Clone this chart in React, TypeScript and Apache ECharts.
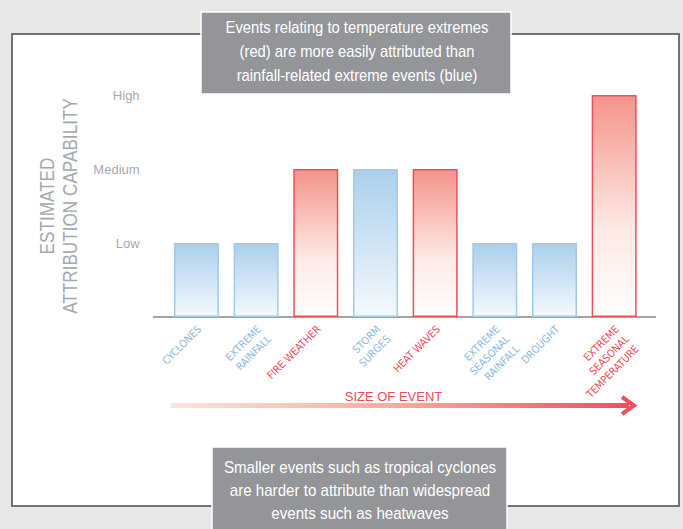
import React, { useEffect, useRef } from "react";
import * as echarts from "echarts";

const categories = [
  "CYCLONES",
  "EXTREME\nRAINFALL",
  "FIRE WEATHER",
  "STORM\nSURGES",
  "HEAT WAVES",
  "EXTREME\nSEASONAL\nRAINFALL",
  "DROUGHT",
  "EXTREME\nSEASONAL\nTEMPERATURE",
];
const capability = [1, 1, 2, 2, 2, 1, 1, 3];
const eventKind = ["rain", "rain", "temp", "rain", "temp", "rain", "rain", "temp"];
const levelLabels = ["", "Low", "Medium", "High"];

const NARROW = "'DejaVu Sans Condensed', 'Liberation Sans Narrow', sans-serif";
const REG = "'Liberation Sans', Arial, sans-serif";
const BLUE_TXT = "#8db9dc";
const RED_TXT = "#ee4b58";

export default function App() {
  const ref = useRef<HTMLDivElement>(null);
  useEffect(() => {
    if (!ref.current) return;
    const chart = echarts.init(ref.current, null, { renderer: "svg" });
    const blueFill = new echarts.graphic.LinearGradient(0, 0, 0, 1, [
      { offset: 0, color: "#aacfec" },
      { offset: 1, color: "#f5f9fd" },
    ]);
    const redFill = new echarts.graphic.LinearGradient(0, 0, 0, 1, [
      { offset: 0, color: "#f5938a" },
      { offset: 0.6, color: "#fde9e4" },
      { offset: 1, color: "#fffefd" },
    ]);
    const centered = { align: "center", verticalAlign: "middle", textAlign: "center", textVerticalAlign: "middle" };
    const option: any = {
      animation: false,
      backgroundColor: "#e7e7e5",
      grid: { left: 166.6, right: 39, top: 95, bottom: 212 },
      xAxis: {
        type: "category",
        data: categories,
        axisLine: { show: false },
        axisTick: { show: false },
        axisLabel: {
          interval: 0,
          rotate: 45,
          margin: 3,
          fontSize: 10.6,
          lineHeight: 14,
          fontFamily: NARROW,
          verticalAlign: "top",
          padding: [0, 3, 0, 0],
          color: (v: any, i: number) => {
            const idx = typeof i === "number" ? i : categories.indexOf(v);
            return eventKind[idx] === "temp" ? RED_TXT : BLUE_TXT;
          },
        },
      },
      yAxis: {
        type: "value",
        min: 0,
        max: 3,
        interval: 1,
        splitLine: { show: false },
        axisLine: { show: false },
        axisTick: { show: false },
        axisLabel: {
          margin: 27,
          fontSize: 13,
          fontFamily: REG,
          color: "#a7a9ac",
          formatter: (v: number) => levelLabels[Math.round(v)] || "",
        },
      },
      series: [
        {
          type: "bar",
          barWidth: 45,
          data: capability.map((v, i) => ({
            value: v,
            itemStyle:
              eventKind[i] === "temp"
                ? { color: redFill, borderColor: "#ef4e5c", borderWidth: 1.5 }
                : { color: blueFill, borderColor: "#a3c9e8", borderWidth: 1.5 },
          })),
        },
      ],
      graphic: [
        {
          type: "rect",
          z: -10,
          shape: { x: 12, y: 34, width: 667, height: 472 },
          style: { fill: "#ffffff", stroke: "#727376", lineWidth: 2 },
        },
        {
          type: "line",
          shape: { x1: 153, y1: 317, x2: 656, y2: 317 },
          style: { stroke: "#a3a3a3", lineWidth: 2 },
        },
        {
          type: "text",
          x: 59,
          y: 206,
          rotation: Math.PI / 2,
          scaleX: 0.88,
          style: {
            text: "ESTIMATED\nATTRIBUTION CAPABILITY",
            fill: "#a7a9ac",
            fontSize: 19.5,
            fontFamily: REG,
            lineHeight: 23,
            ...centered,
          },
        },
        {
          type: "text",
          x: 393.5,
          y: 396,
          style: {
            text: "SIZE OF EVENT",
            fill: RED_TXT,
            fontSize: 13,
            fontFamily: REG,
            ...centered,
          },
        },
        {
          type: "rect",
          shape: { x: 171, y: 403, width: 458, height: 5 },
          style: {
            fill: new echarts.graphic.LinearGradient(0, 0, 1, 0, [
              { offset: 0, color: "#fde2de" },
              { offset: 0.5, color: "#f7a9a1" },
              { offset: 1, color: "#ee4f5b" },
            ]),
          },
        },
        {
          type: "polyline",
          shape: { points: [[622, 397], [634, 405.5], [622, 414]] },
          style: { stroke: "#ee4f5b", lineWidth: 4, fill: "none" },
        },
        {
          type: "rect",
          z: 100,
          shape: { x: 201, y: 12, width: 310, height: 82 },
          style: { fill: "#939598", stroke: "#ffffff", lineWidth: 1.5 },
        },
        {
          type: "text",
          z: 101,
          x: 357,
          y: 51,
          scaleX: 0.87,
          style: {
            text:
              "Events relating to temperature extremes\n(red) are more easily attributed than\nrainfall-related extreme events (blue)",
            fill: "#ffffff",
            fontSize: 17,
            fontFamily: REG,
            lineHeight: 24,
            ...centered,
          },
        },
        {
          type: "rect",
          z: 100,
          shape: { x: 212, y: 447, width: 295, height: 90 },
          style: { fill: "#939598", stroke: "#ffffff", lineWidth: 1.5 },
        },
        {
          type: "text",
          z: 101,
          x: 360,
          y: 490,
          scaleX: 0.89,
          style: {
            text:
              "Smaller events such as tropical cyclones\nare harder to attribute than widespread\nevents such as heatwaves",
            fill: "#ffffff",
            fontSize: 17,
            fontFamily: REG,
            lineHeight: 23,
            ...centered,
          },
        },
      ],
    };
    chart.setOption(option);
    return () => chart.dispose();
  }, []);
  return (
    <div
      ref={ref}
      style={{ position: "absolute", left: 0, top: 0, width: 683, height: 529 }}
    />
  );
}
